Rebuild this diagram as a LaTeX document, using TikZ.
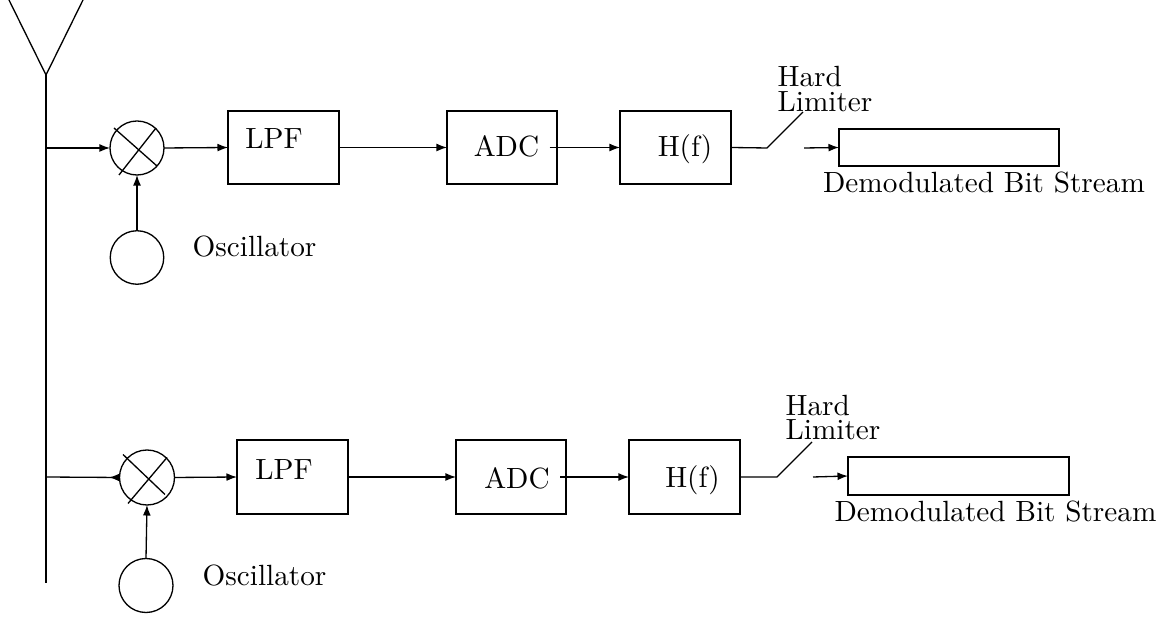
\documentclass[tikz,border=0pt]{standalone}
\usetikzlibrary{arrows.meta}
\begin{document}
\begin{tikzpicture}[x=0.342pt,y=-0.342pt, line width=0.45pt,
  box/.style={draw, rectangle, inner sep=0pt, outer sep=0pt},
  circ/.style={draw, circle, inner sep=0pt, outer sep=0pt, minimum size=#1},
  lbl/.style={anchor=base},
  arr/.style={-{Latex[length=3.6pt,width=2.7pt]}},
  rarr/.style={-{Latex[length=3.6pt,width=2.7pt,reversed]}}]
\useasboundingbox (0,0) rectangle (1173,619);

% antenna
\coordinate (aL) at (9,0);
\coordinate (aR) at (83,0);
\coordinate (aV) at (46,75);
\coordinate (aB) at (46,583);
\coordinate (t1) at (46,148);
\coordinate (t2) at (46,477);
\draw (aL) -- (aV) -- (aR);
\draw (aV) -- (aB);

% ---------- top branch ----------
\node[circ=18.47pt] (mix1) at (137,148) {};
\draw ([shift={(-23,-20)}]mix1.center) -- ([shift={(20,18)}]mix1.center);
\draw ([shift={(-18,27)}]mix1.center) -- ([shift={(19,-20)}]mix1.center);
\node[circ=18.3pt] (osc1) at (137,257.5) {};
\node[lbl, anchor=base west, inner sep=0pt] (osc1t) at (192,257) {Oscillator};

\node[box, minimum width=37.96pt, minimum height=24.97pt] (lpf1) at (283.5,147.5) {};
\node[lbl] (lpf1t) at (274,149) {LPF};
\node[box, minimum width=37.62pt, minimum height=24.97pt] (adc1) at (502,147.5) {};
\node[lbl] (adc1t) at (506.5,157) {ADC};
\node[box, minimum width=37.96pt, minimum height=24.97pt] (hf1) at (675.5,147.5) {};
\node[lbl] (hf1t) at (685,157) {H(f)};

\coordinate (sw1a) at (767,148);
\coordinate (sw1b) at (803,112);
\coordinate (sw1c) at (804,148);
\node[align=left, anchor=north west, inner sep=0pt] (hl1) at (777,66) {Hard\\[-3.6pt]Limiter};
\node[box, minimum width=75.24pt, minimum height=12.65pt] (dm1) at (949,147.5) {};
\node[lbl] (dm1t) at (984,193) {Demodulated Bit Stream};

\draw[arr] (t1) -- (mix1.west);
\draw[arr] (osc1.north) -- (mix1.south);
\draw[arr] (mix1.east) -- (lpf1.west);
\draw[arr] (lpf1.east) -- (adc1.west);
\draw[arr] (adc1t.east |- adc1.center) -- (hf1.west);
\draw (hf1.east) -- (sw1a) -- (sw1b);
\draw[arr] (sw1c) -- (dm1.west);

% ---------- bottom branch ----------
\node[circ=18.81pt] (mix2) at (147,477.5) {};
\draw ([shift={(-24,-23)}]mix2.center) -- ([shift={(18,17)}]mix2.center);
\draw ([shift={(-19,26)}]mix2.center) -- ([shift={(20,-20)}]mix2.center);
\node[circ=18.47pt] (osc2) at (146,585.5) {};
\node[lbl, anchor=base west, inner sep=0pt] (osc2t) at (202,586) {Oscillator};

\node[box, minimum width=37.96pt, minimum height=25.3pt] (lpf2) at (292.5,477) {};
\node[lbl] (lpf2t) at (284,480) {LPF};
\node[box, minimum width=37.62pt, minimum height=25.3pt] (adc2) at (511,477) {};
\node[lbl] (adc2t) at (517,489) {ADC};
\node[box, minimum width=37.96pt, minimum height=25.3pt] (hf2) at (684.5,477) {};
\node[lbl] (hf2t) at (692.5,488) {H(f)};

\coordinate (sw2a) at (777,477);
\coordinate (sw2b) at (812,442);
\coordinate (sw2c) at (813,477);
\node[align=left, anchor=north west, inner sep=0pt] (hl2) at (785,395) {Hard\\[-3.9pt]Limiter};
\node[box, minimum width=75.58pt, minimum height=13pt] (dm2) at (958.5,476) {};
\node[lbl] (dm2t) at (995.5,522) {Demodulated Bit Stream};

\draw[rarr] (t2) -- (mix2.west);
\draw[arr] (osc2.north) -- (mix2.south);
\draw[arr] (mix2.east) -- (lpf2.west);
\draw[arr] (lpf2.east) -- (adc2.west);
\draw[arr] (adc2t.east |- adc2.center) -- (hf2.west);
\draw (hf2.east) -- (sw2a) -- (sw2b);
\draw[arr] (sw2c) -- (dm2.west);
\end{tikzpicture}
\end{document}
